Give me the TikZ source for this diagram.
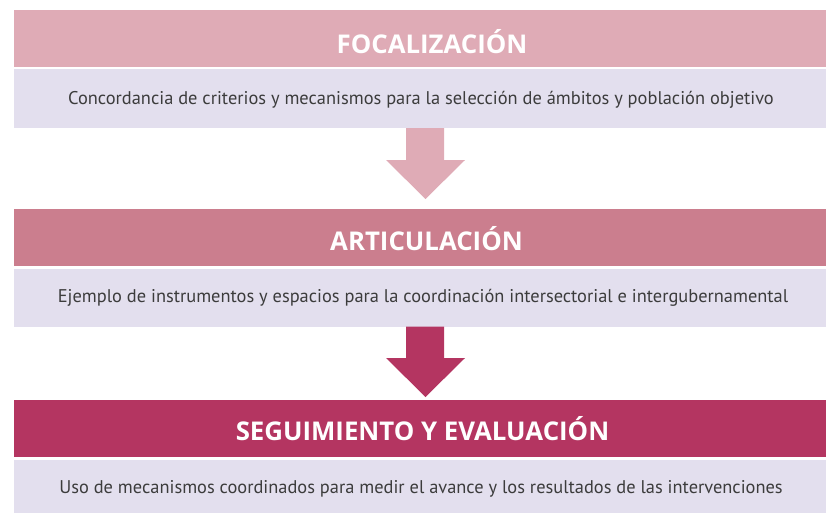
\documentclass[tikz,border=0pt]{standalone}
\usepackage{fontspec}
\setmainfont{PT Sans}
\newfontfamily\hdrfont{Open Sans}
\definecolor{cone}{HTML}{DFABB6}
\definecolor{ctwo}{HTML}{CB7E8E}
\definecolor{cthree}{HTML}{B43561}
\definecolor{lav}{HTML}{E3DFEE}
\definecolor{bodytext}{HTML}{3C3C3C}
\begin{document}
\begin{tikzpicture}[x=1pt,y=-1pt,
  band/.style={anchor=north west, minimum width=820pt, inner sep=0pt, draw=none},
  hdrtext/.style={anchor=base, inner sep=0pt, text=white, font=\hdrfont\bfseries\fontsize{25.8}{30}\selectfont},
  bodytxt/.style={anchor=base, inner sep=0pt, text=bodytext, font=\fontsize{18.4}{22}\selectfont}]
\useasboundingbox (0,0) rectangle (826,512);
% bands
\node[band, fill=cone, minimum height=57pt] (h1) at (14,10) {};
\node[band, fill=lav, minimum height=59pt] (b1) at (14,69) {};
\node[band, fill=ctwo, minimum height=57pt] (h2) at (14,209) {};
\node[band, fill=lav, minimum height=58pt] (b2) at (14,268.5) {};
\node[band, fill=cthree, minimum height=57pt] (h3) at (14,400) {};
\node[band, fill=lav, minimum height=56pt] (b3) at (14,460) {};
% texts
\node[hdrtext] (t1) at (432,53.5) {FOCALIZACIÓN};
\node[bodytxt] (s1) at (421,104) {Concordancia de criterios y mecanismos para la selección de ámbitos y población objetivo};
\node[hdrtext] (t2) at (426.5,250) {ARTICULACIÓN};
\node[bodytxt] (s2) at (423,302) {Ejemplo de instrumentos y espacios para la coordinación intersectorial e intergubernamental};
\node[hdrtext] (t3) at (422.5,440.5) {SEGUIMIENTO Y EVALUACIÓN};
\node[bodytxt] (s3) at (421,493) {Uso de mecanismos coordinados para medir el avance y los resultados de las intervenciones};
% block arrows
\fill[cone] (406,128) -- (406,160) -- (386,160) -- (425.5,199) -- (465,160) -- (444,160) -- (444,128) -- cycle;
\fill[cthree] (406,326.5) -- (406,358) -- (386,358) -- (425.5,397) -- (465,358) -- (444,358) -- (444,326.5) -- cycle;
\end{tikzpicture}
\end{document}
